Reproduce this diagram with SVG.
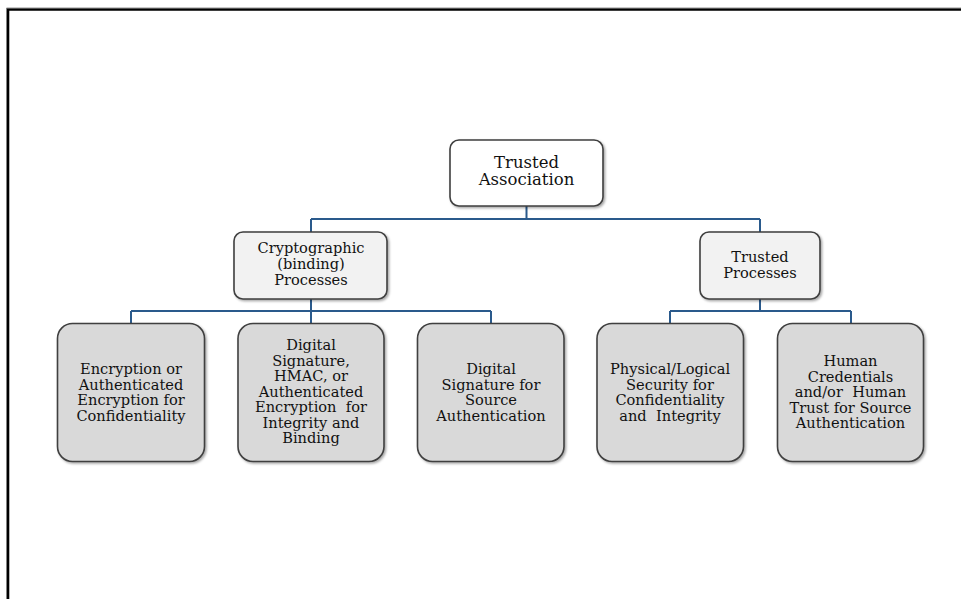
<svg xmlns="http://www.w3.org/2000/svg" width="961" height="599" viewBox="0 0 961 599">
<style>
.t{font-family:"DejaVu Serif","Liberation Serif",serif;font-size:14.6px;fill:#111;text-anchor:middle}
.tt{font-size:16.5px}
.box{stroke:#3f3f3f;stroke-width:1.6;filter:url(#sh)}
.lvl0{fill:#ffffff}
.lvl1{fill:#f2f2f2}
.lvl2{fill:#d9d9d9}
.con{fill:none;stroke:#2a5a8c;stroke-width:2}
</style>
<defs>
<filter id="sh" x="-10%" y="-10%" width="125%" height="125%">
<feDropShadow dx="1.5" dy="1.5" stdDeviation="1.2" flood-color="#000" flood-opacity="0.35"/>
</filter>
</defs>
<rect width="961" height="599" fill="#fff"/>
<path d="M8,599 V9.5 H961" fill="none" stroke="#000" stroke-width="2.6"/>
<path d="M6.5,599 V8 H961" fill="none" stroke="#777" stroke-width="0.8"/>
<g id="connectors">
<path class="con" d="M526.5,206 V219 M311,219 H760 M311,219 V232 M760,219 V232"/>
<path class="con" d="M311,299 V311 M131,311 H491 M131,311 V323 M311,311 V323 M491,311 V323"/>
<path class="con" d="M760,299 V311 M670,311 H851 M670,311 V323 M851,311 V323"/>
</g>
<g id="n-trusted-association">
<rect class="box lvl0" x="450" y="140" width="153" height="66" rx="9"/>
<text class="t tt" x="526.5" y="167.5">Trusted</text>
<text class="t tt" x="526.5" y="185">Association</text>
</g>
<g id="n-crypto">
<rect class="box lvl1" x="234" y="232" width="153" height="67" rx="9"/>
<text class="t" x="311" y="253">Cryptographic</text>
<text class="t" x="311" y="269">(binding)</text>
<text class="t" x="311" y="285">Processes</text>
</g>
<g id="n-trusted-processes">
<rect class="box lvl1" x="700" y="232" width="120" height="67" rx="9"/>
<text class="t" x="760" y="261.5">Trusted</text>
<text class="t" x="760" y="277.5">Processes</text>
</g>
<g id="n-encryption">
<rect class="box lvl2" x="57.5" y="323.5" width="147" height="138" rx="15"/>
<text class="t" x="131" y="374">Encryption or</text>
<text class="t" x="131" y="389.5">Authenticated</text>
<text class="t" x="131" y="405">Encryption for</text>
<text class="t" x="131" y="420.5">Confidentiality</text>
</g>
<g id="n-digital-signature-hmac">
<rect class="box lvl2" x="238" y="323.5" width="146" height="138" rx="15"/>
<text class="t" x="311" y="350">Digital</text>
<text class="t" x="311" y="365.5">Signature,</text>
<text class="t" x="311" y="381">HMAC, or</text>
<text class="t" x="311" y="396.5">Authenticated</text>
<text class="t" x="311" y="412" xml:space="preserve">Encryption  for</text>
<text class="t" x="311" y="427.5">Integrity and</text>
<text class="t" x="311" y="443">Binding</text>
</g>
<g id="n-digital-signature-source">
<rect class="box lvl2" x="417.5" y="323.5" width="146.5" height="138" rx="15"/>
<text class="t" x="491" y="374">Digital</text>
<text class="t" x="491" y="389.5">Signature for</text>
<text class="t" x="491" y="405">Source</text>
<text class="t" x="491" y="420.5">Authentication</text>
</g>
<g id="n-physical-logical">
<rect class="box lvl2" x="597" y="323.5" width="146.5" height="138" rx="15"/>
<text class="t" x="670" y="374">Physical/Logical</text>
<text class="t" x="670" y="389.5">Security for</text>
<text class="t" x="670" y="405">Confidentiality</text>
<text class="t" x="670" y="420.5" xml:space="preserve">and  Integrity</text>
</g>
<g id="n-human">
<rect class="box lvl2" x="777.5" y="323.5" width="146" height="138" rx="15"/>
<text class="t" x="850.5" y="366">Human</text>
<text class="t" x="850.5" y="381.5">Credentials</text>
<text class="t" x="850.5" y="397" xml:space="preserve">and/or  Human</text>
<text class="t" x="850.5" y="412.5">Trust for Source</text>
<text class="t" x="850.5" y="428">Authentication</text>
</g>
</svg>
